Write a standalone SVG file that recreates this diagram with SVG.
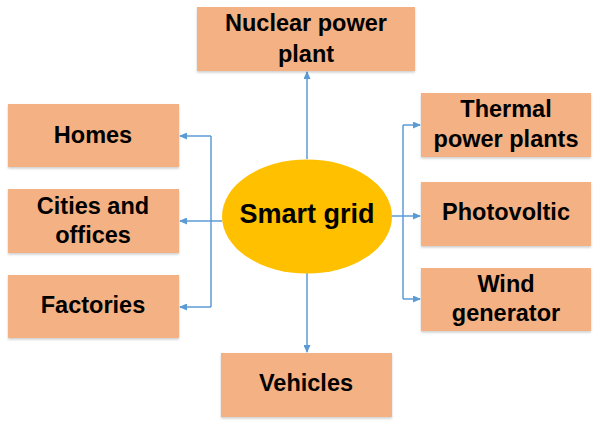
<svg xmlns="http://www.w3.org/2000/svg" width="600" height="427" viewBox="0 0 600 427">
<defs>
<marker id="ah" markerWidth="8" markerHeight="7" refX="7" refY="3.5" orient="auto" markerUnits="userSpaceOnUse">
<path d="M0,0 L8,3.5 L0,7 Z" fill="#5B9BD5"/>
</marker>
<filter id="sh" x="-5%" y="-5%" width="110%" height="120%">
<feDropShadow dx="0" dy="1.5" stdDeviation="1" flood-color="#000" flood-opacity="0.2"/>
</filter>
</defs>
<style>
.box{fill:#F4B183;filter:url(#sh)}
.t{font-family:"Liberation Sans",Arial,sans-serif;font-weight:bold;font-size:23.5px;fill:#000;text-anchor:middle}
.c{fill:none;stroke:#5B9BD5;stroke-width:1.5}
</style>
<rect width="600" height="427" fill="#fff"/>
<g id="connectors">
<path class="c" d="M307,159 V72" marker-end="url(#ah)"/>
<path class="c" d="M307,273 V352" marker-end="url(#ah)"/>
<path class="c" d="M222,221 H211"/>
<path class="c" d="M211,136 V307"/>
<path class="c" d="M211,136 H180" marker-end="url(#ah)"/>
<path class="c" d="M211,221 H180" marker-end="url(#ah)"/>
<path class="c" d="M211,307 H180" marker-end="url(#ah)"/>
<path class="c" d="M392,216 H403"/>
<path class="c" d="M403,125 V299"/>
<path class="c" d="M403,125 H420" marker-end="url(#ah)"/>
<path class="c" d="M403,216 H420" marker-end="url(#ah)"/>
<path class="c" d="M403,299 H420" marker-end="url(#ah)"/>
</g>
<g id="smart-grid">
<ellipse cx="307" cy="216.5" rx="85" ry="57" fill="#FFC000"/>
<text class="t" x="307" y="223" style="font-size:27px">Smart grid</text>
</g>
<g id="nuclear">
<rect class="box" x="197" y="7" width="218" height="64"/>
<text class="t" x="306" y="31">Nuclear power</text>
<text class="t" x="306" y="62">plant</text>
</g>
<g id="vehicles">
<rect class="box" x="221" y="353" width="171" height="64"/>
<text class="t" x="306" y="391">Vehicles</text>
</g>
<g id="homes">
<rect class="box" x="8" y="104" width="171" height="63"/>
<text class="t" x="93" y="143">Homes</text>
</g>
<g id="cities">
<rect class="box" x="8" y="189" width="171" height="64"/>
<text class="t" x="93" y="214">Cities and</text>
<text class="t" x="93" y="243">offices</text>
</g>
<g id="factories">
<rect class="box" x="8" y="275" width="171" height="63"/>
<text class="t" x="93" y="313">Factories</text>
</g>
<g id="thermal">
<rect class="box" x="421" y="93" width="170" height="64"/>
<text class="t" x="506" y="117">Thermal</text>
<text class="t" x="506" y="147">power plants</text>
</g>
<g id="photovoltic">
<rect class="box" x="421" y="182" width="170" height="64"/>
<text class="t" x="506" y="220">Photovoltic</text>
</g>
<g id="wind">
<rect class="box" x="421" y="268" width="170" height="63"/>
<text class="t" x="506" y="292">Wind</text>
<text class="t" x="506" y="321">generator</text>
</g>
</svg>
